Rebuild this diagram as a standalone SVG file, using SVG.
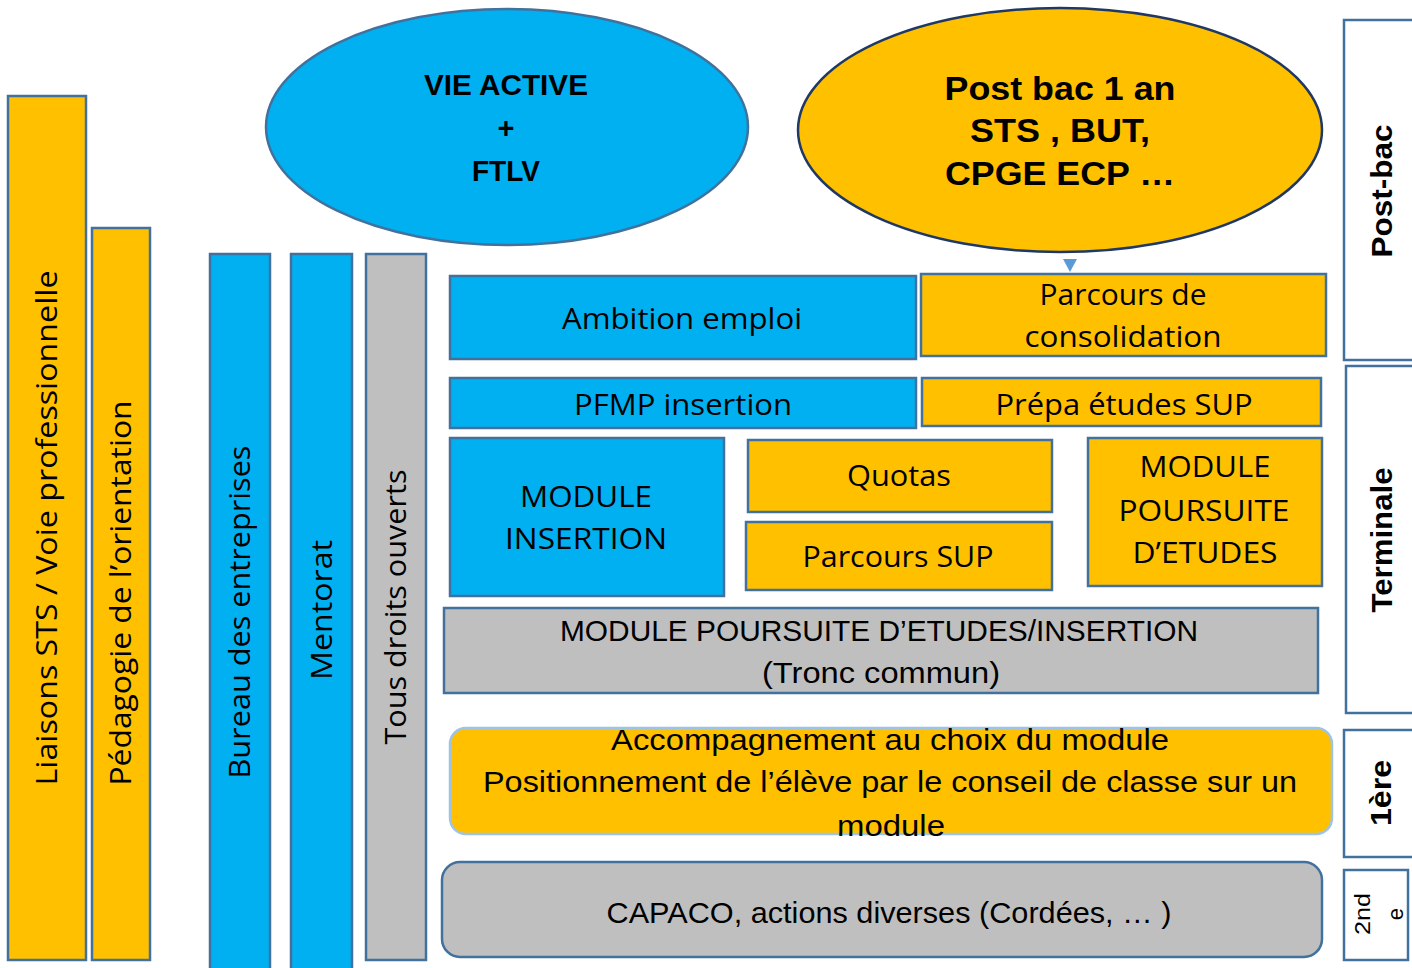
<svg xmlns="http://www.w3.org/2000/svg" width="1412" height="968" viewBox="0 0 1412 968">
<style>
.y{fill:#FFC000;stroke:#41719C;stroke-width:2.5}
.b{fill:#00B0F0;stroke:#41719C;stroke-width:2.5}
.g{fill:#BFBFBF;stroke:#41719C;stroke-width:2.5}
.w{fill:#FFFFFF;stroke:#41719C;stroke-width:2.5}
text{font-family:"Open Sans","DejaVu Sans",sans-serif;font-size:29px;fill:#000;text-anchor:middle;dominant-baseline:central}
.bd{font-family:"Liberation Sans",Arial,sans-serif;font-weight:bold}
.c{font-family:"Liberation Sans Narrow","Liberation Sans",Arial,sans-serif}
</style>

<g id="liaisons"><rect class="y" x="8" y="96" width="78" height="864"/><text transform="rotate(-90 47 528)" x="47" y="526" textLength="515" lengthAdjust="spacingAndGlyphs">Liaisons STS / Voie professionnelle</text></g>
<g id="pedagogie"><rect class="y" x="92" y="228" width="58" height="732"/><text transform="rotate(-90 121 593)" x="121" y="591" textLength="385" lengthAdjust="spacingAndGlyphs">Pédagogie de l’orientation</text></g>
<g id="bureau"><rect class="b" x="210" y="254" width="60" height="716"/><text transform="rotate(-90 240 612)" x="240" y="610" textLength="333" lengthAdjust="spacingAndGlyphs">Bureau des entreprises</text></g>
<g id="mentorat"><rect class="b" x="291" y="254" width="61" height="716"/><text transform="rotate(-90 322 610)" x="322" y="608" textLength="140" lengthAdjust="spacingAndGlyphs">Mentorat</text></g>
<g id="droits"><rect class="g" x="366" y="254" width="60" height="706"/><text transform="rotate(-90 396 607)" x="396" y="605" textLength="275" lengthAdjust="spacingAndGlyphs">Tous droits ouverts</text></g>

<g id="vie-active"><ellipse class="b" cx="507" cy="127" rx="241" ry="118"/>
<text class="bd" x="506" y="85" textLength="164" lengthAdjust="spacingAndGlyphs">VIE ACTIVE</text>
<text class="bd" x="506" y="128">+</text>
<text class="bd" x="506" y="171" textLength="68" lengthAdjust="spacingAndGlyphs">FTLV</text></g>

<g id="post-bac-1an"><ellipse class="y" cx="1060" cy="130" rx="262" ry="122" style="stroke:#1F3864"/>
<text class="bd" x="1060" y="88" style="font-size:33px" textLength="231" lengthAdjust="spacingAndGlyphs">Post bac 1 an</text>
<text class="bd" x="1060" y="130" style="font-size:33px" textLength="180" lengthAdjust="spacingAndGlyphs">STS , BUT,</text>
<text class="bd" x="1060" y="173" style="font-size:33px" textLength="230" lengthAdjust="spacingAndGlyphs">CPGE ECP …</text></g>

<g id="connectors"><polygon points="1063,259 1077,259 1070,272" fill="#5B9BD5"/></g>

<g id="ambition"><rect class="b" x="450" y="276" width="466" height="83"/><text x="682" y="317" textLength="240" lengthAdjust="spacingAndGlyphs">Ambition emploi</text></g>
<g id="consolidation"><rect class="y" x="921" y="274" width="405" height="82"/><text x="1123" y="293" textLength="167" lengthAdjust="spacingAndGlyphs">Parcours de</text><text x="1123" y="335" textLength="197" lengthAdjust="spacingAndGlyphs">consolidation</text></g>
<g id="pfmp"><rect class="b" x="450" y="378" width="466" height="50"/><text x="683" y="403" textLength="218" lengthAdjust="spacingAndGlyphs">PFMP insertion</text></g>
<g id="prepa"><rect class="y" x="922" y="378" width="399" height="48"/><text x="1124" y="403" textLength="257" lengthAdjust="spacingAndGlyphs">Prépa études SUP</text></g>
<g id="module-insertion"><rect class="b" x="450" y="438" width="274" height="158"/><text x="586" y="495" textLength="132" lengthAdjust="spacingAndGlyphs">MODULE</text><text x="586" y="537" textLength="162" lengthAdjust="spacingAndGlyphs">INSERTION</text></g>
<g id="quotas"><rect class="y" x="748" y="440" width="304" height="72"/><text x="899" y="474" textLength="104" lengthAdjust="spacingAndGlyphs">Quotas</text></g>
<g id="parcours-sup"><rect class="y" x="746" y="522" width="306" height="68"/><text x="898" y="555" textLength="191" lengthAdjust="spacingAndGlyphs">Parcours SUP</text></g>
<g id="module-poursuite"><rect class="y" x="1088" y="438" width="234" height="148"/><text x="1205" y="465" textLength="131" lengthAdjust="spacingAndGlyphs">MODULE</text><text x="1204" y="509" textLength="171" lengthAdjust="spacingAndGlyphs">POURSUITE</text><text x="1205" y="551" textLength="145" lengthAdjust="spacingAndGlyphs">D’ETUDES</text></g>
<g id="tronc-commun"><rect class="g" x="444" y="608" width="874" height="85"/><text class="c" x="879" y="631" textLength="638" lengthAdjust="spacingAndGlyphs">MODULE POURSUITE D’ETUDES/INSERTION</text><text class="c" x="881" y="673" textLength="238" lengthAdjust="spacingAndGlyphs">(Tronc commun)</text></g>
<g id="accompagnement"><rect x="450" y="728" width="882" height="106" rx="16" fill="#FFC000" stroke="#9DC3E6" stroke-width="2.5"/>
<text class="c" x="890" y="740" textLength="558" lengthAdjust="spacingAndGlyphs">Accompagnement au choix du module</text>
<text class="c" x="890" y="782" textLength="814" lengthAdjust="spacingAndGlyphs">Positionnement de l’élève par le conseil de classe sur un</text>
<text class="c" x="891" y="826" textLength="108" lengthAdjust="spacingAndGlyphs">module</text></g>
<g id="capaco"><rect class="g" x="442" y="862" width="880" height="95" rx="18"/><text class="c" x="889" y="913" textLength="565" lengthAdjust="spacingAndGlyphs">CAPACO, actions diverses (Cordées, … )</text></g>

<g id="post-bac"><rect class="w" x="1344" y="20" width="72" height="340"/><text class="c bd" transform="rotate(-90 1382 191)" x="1382" y="191" textLength="133" lengthAdjust="spacingAndGlyphs">Post-bac</text></g>
<g id="terminale"><rect class="w" x="1346" y="366" width="70" height="347"/><text class="c bd" transform="rotate(-90 1382 540)" x="1382" y="540" textLength="145" lengthAdjust="spacingAndGlyphs">Terminale</text></g>
<g id="premiere"><rect class="w" x="1344" y="730" width="72" height="127"/><text class="c bd" transform="rotate(-90 1381 793)" x="1381" y="793" textLength="66" lengthAdjust="spacingAndGlyphs">1ère</text></g>
<g id="seconde"><rect class="w" x="1344" y="870" width="64" height="90"/><text class="c" transform="rotate(-90 1362 914)" x="1362" y="914" style="font-size:22px" textLength="42" lengthAdjust="spacingAndGlyphs">2nd</text><text class="c" transform="rotate(-90 1395 914)" x="1395" y="914" style="font-size:22px">e</text></g>
</svg>
